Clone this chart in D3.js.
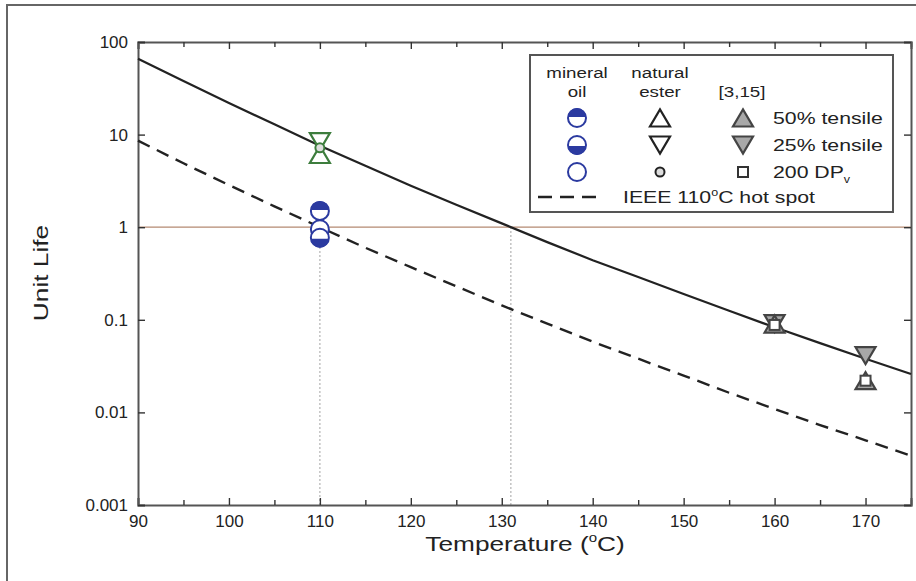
<!DOCTYPE html>
<html><head><meta charset="utf-8">
<script src="https://cdn.jsdelivr.net/npm/d3@7"></script>
<style>body{margin:0;background:#fff}svg{display:block;font-family:"Liberation Sans",Arial,sans-serif}</style>
</head><body><svg id="c" width="916" height="581"></svg>
<script>
// ---- data ----
const temps = [90,95,100,105,110,115,120,125,130,135,140,145,150,155,160,165,170,175];
const naturalEsterLife = [66,38,22,12.9,7.6,4.6,2.8,1.75,1.1,0.69,0.44,0.29,0.19,0.125,0.083,0.056,0.038,0.026];
const ieeeLife = [8.6,4.9,2.85,1.68,1.0,0.6,0.37,0.23,0.143,0.091,0.058,0.038,0.025,0.0163,0.0109,0.0073,0.005,0.0034];
const mineralOilPts = [{t:110,v:1.5,kind:"half50"},{t:110,v:0.95,kind:"open"},{t:110,v:0.77,kind:"half25"}];
const naturalEsterPts = [{t:110,v:8.4,kind:"down"},{t:110,v:6.1,kind:"up"},{t:110,v:7.2,kind:"dot"}];
const refPts = [{t:160,v:0.091,kind:"down"},{t:160,v:0.09,kind:"up"},{t:160,v:0.088,kind:"square"},
                {t:170,v:0.041,kind:"down"},{t:170,v:0.022,kind:"up"},{t:170,v:0.022,kind:"square"}];
const xTicks = [90,100,110,120,130,140,150,160,170];
const yTicks = [0.001,0.01,0.1,1,10,100];
const yTickLabels = ["0.001","0.01","0.1","1","10","100"];
const legendRows = ["50% tensile","25% tensile","200 DP"];

const svg = d3.select("#c");
const L=138,R=911,T=42,B=505;
const x = d3.scaleLinear().domain([90,175]).range([L,R]);
const y = d3.scaleLog().domain([0.001,100]).range([B,T]);
const BLUE="#2b3aa0", GREEN="#3d7d3d", GRAY="#a8a8a8", DARK="#222";
const SX=1.25; // reference glyphs are wide

function stext(parent,xx,yy,size,anchor,rot){
  const g = parent.append("g").attr("transform",`translate(${xx},${yy})${rot?` rotate(${rot})`:""} scale(${SX},1)`);
  return g.append("text").attr("text-anchor",anchor).style("font-size",size+"px").attr("fill","#222");
}

// outer frame
svg.append("rect").attr("x",7).attr("y",5).attr("width",940).attr("height",620)
  .attr("fill","none").attr("stroke","#666").attr("stroke-width",2);

// reference lines
svg.append("line").attr("x1",L).attr("x2",R).attr("y1",y(1)).attr("y2",y(1))
  .attr("stroke","#b48a72").attr("stroke-width",1.2);
[110,131].forEach(t=>svg.append("line").attr("x1",x(t)).attr("x2",x(t)).attr("y1",y(1)).attr("y2",B)
  .attr("stroke","#999").attr("stroke-width",1.2).attr("stroke-dasharray","1.5,2.5"));

// axes
const gx = svg.append("g").attr("transform",`translate(0,${B})`)
  .call(d3.axisBottom(x).tickValues(d3.range(90,176,5)).tickSize(-7).tickFormat(d=>xTicks.includes(d)?d:""));
const gxt = svg.append("g").attr("transform",`translate(0,${T})`)
  .call(d3.axisTop(x).tickValues(d3.range(90,176,5)).tickSize(-7).tickFormat(""));
const gy = svg.append("g").attr("transform",`translate(${L},0)`)
  .call(d3.axisLeft(y).tickValues(yTicks).tickSize(-7).tickFormat((d,i)=>yTickLabels[i]));
const gyr = svg.append("g").attr("transform",`translate(${R},0)`)
  .call(d3.axisRight(y).tickValues(yTicks).tickSize(-7).tickFormat(""));
[gx,gxt,gy,gyr].forEach(g=>{
  g.select(".domain").attr("stroke","#555").attr("stroke-width",2);
  g.selectAll(".tick line").attr("stroke","#333").attr("stroke-width",1.4);
  g.selectAll("text").attr("fill","#222").style("font-size","17px").style("font-family","Liberation Sans, Arial, sans-serif");
});
gx.selectAll("text").attr("dy","0.9em").attr("y",7);
gx.selectAll(".tick").filter(d=>d%10!==0).select("line").attr("y2",-5);
gxt.selectAll(".tick").filter(d=>d%10!==0).select("line").attr("y2",5);
gy.selectAll("text").attr("x",-10);

// axis titles
const xt = stext(svg,525,551,21,"middle");
xt.append("tspan").text("Temperature (");
xt.append("tspan").text("o").style("font-size","12px").attr("dy","-9");
xt.append("tspan").text("C)").attr("dy","9");
stext(svg,48,273,21,"middle",-90).text("Unit Life");

// lines
const line = d3.line().x((d,i)=>x(temps[i])).y(d=>y(d));
svg.append("path").datum(naturalEsterLife).attr("d",line).attr("fill","none").attr("stroke",DARK).attr("stroke-width",2.2);
svg.append("path").datum(ieeeLife).attr("d",line).attr("fill","none").attr("stroke",DARK).attr("stroke-width",2.4).attr("stroke-dasharray","13,8");

function tri(g,cx,cy,up,fill,stroke,w=20,h=17){
  const p = up ? `M${cx-w/2},${cy+h/2}L${cx+w/2},${cy+h/2}L${cx},${cy-h/2}Z`
               : `M${cx-w/2},${cy-h/2}L${cx+w/2},${cy-h/2}L${cx},${cy+h/2}Z`;
  g.append("path").attr("d",p).attr("fill",fill).attr("stroke",stroke).attr("stroke-width",2.2).attr("stroke-linejoin","miter");
}
function halfCircle(g,cx,cy,r,top,col){
  g.append("circle").attr("cx",cx).attr("cy",cy).attr("r",r).attr("fill","#fff").attr("stroke",col).attr("stroke-width",2);
  const p = top ? `M${cx-r},${cy-1}A${r},${r} 0 0 1 ${cx+r},${cy-1}Z` : `M${cx-r},${cy+1}A${r},${r} 0 0 0 ${cx+r},${cy+1}Z`;
  g.append("path").attr("d",p).attr("fill",col);
}
function marker(g,cx,cy,kind,col,fill){
  if(kind==="up") tri(g,cx,cy,true,fill,col);
  else if(kind==="down") tri(g,cx,cy,false,fill,col);
  else if(kind==="dot") g.append("circle").attr("cx",cx).attr("cy",cy).attr("r",4.5).attr("fill","#ddd").attr("stroke",col).attr("stroke-width",2);
  else if(kind==="square") g.append("rect").attr("x",cx-5).attr("y",cy-5).attr("width",10).attr("height",10).attr("fill","#fff").attr("stroke",col).attr("stroke-width",2);
  else if(kind==="open") g.append("circle").attr("cx",cx).attr("cy",cy).attr("r",9).attr("fill","#fff").attr("stroke",col).attr("stroke-width",2);
  else if(kind==="half50") halfCircle(g,cx,cy,9,true,col);
  else if(kind==="half25") halfCircle(g,cx,cy,9,false,col);
}
const gm = svg.append("g");
naturalEsterPts.forEach(d=>marker(gm,x(d.t),y(d.v),d.kind,GREEN,d.kind==="dot"?"#cfe6cf":"none"));
mineralOilPts.forEach(d=>marker(gm,x(d.t),y(d.v),d.kind,BLUE));
refPts.forEach(d=>marker(gm,x(d.t),y(d.v),d.kind,"#444",GRAY));

// legend
const lg = svg.append("g");
lg.append("rect").attr("x",530).attr("y",55).attr("width",363).attr("height",157).attr("fill","#fff").attr("stroke","#555").attr("stroke-width",2);
const ts = (t,xx,yy,anchor="middle",size=15)=>{ const e=stext(lg,xx,yy,size,anchor); e.text(t); return e; };
ts("mineral",577,78); ts("oil",577,97);
ts("natural",660,78); ts("ester",660,97);
ts("[3,15]",742,97);
const rowsY=[118,145,172];
legendRows.forEach((t,i)=>{
  const tx = ts(t,773,rowsY[i]+6,"start",17);
  if(i===2){ tx.append("tspan").text("v").style("font-size","10px").attr("dy","5"); }
});
marker(lg,577,rowsY[0],"half50",BLUE); marker(lg,577,rowsY[1],"half25",BLUE); marker(lg,577,rowsY[2],"open",BLUE);
tri(lg,660,rowsY[0],true,"none","#222"); tri(lg,660,rowsY[1],false,"none","#222");
lg.append("circle").attr("cx",660).attr("cy",rowsY[2]).attr("r",4.5).attr("fill","#ddd").attr("stroke","#222").attr("stroke-width",2);
tri(lg,743,rowsY[0],true,GRAY,"#444"); tri(lg,743,rowsY[1],false,GRAY,"#444");
lg.append("rect").attr("x",738).attr("y",rowsY[2]-5).attr("width",10).attr("height",10).attr("fill","#fff").attr("stroke","#333").attr("stroke-width",2);
lg.append("line").attr("x1",538).attr("x2",602).attr("y1",197).attr("y2",197).attr("stroke",DARK).attr("stroke-width",2.4).attr("stroke-dasharray","14,8");
const ie = stext(lg,623,203,17,"start");
ie.append("tspan").text("IEEE 110");
ie.append("tspan").text("o").style("font-size","10px").attr("dy","-7");
ie.append("tspan").text("C hot spot").attr("dy","7");
</script></body></html>
